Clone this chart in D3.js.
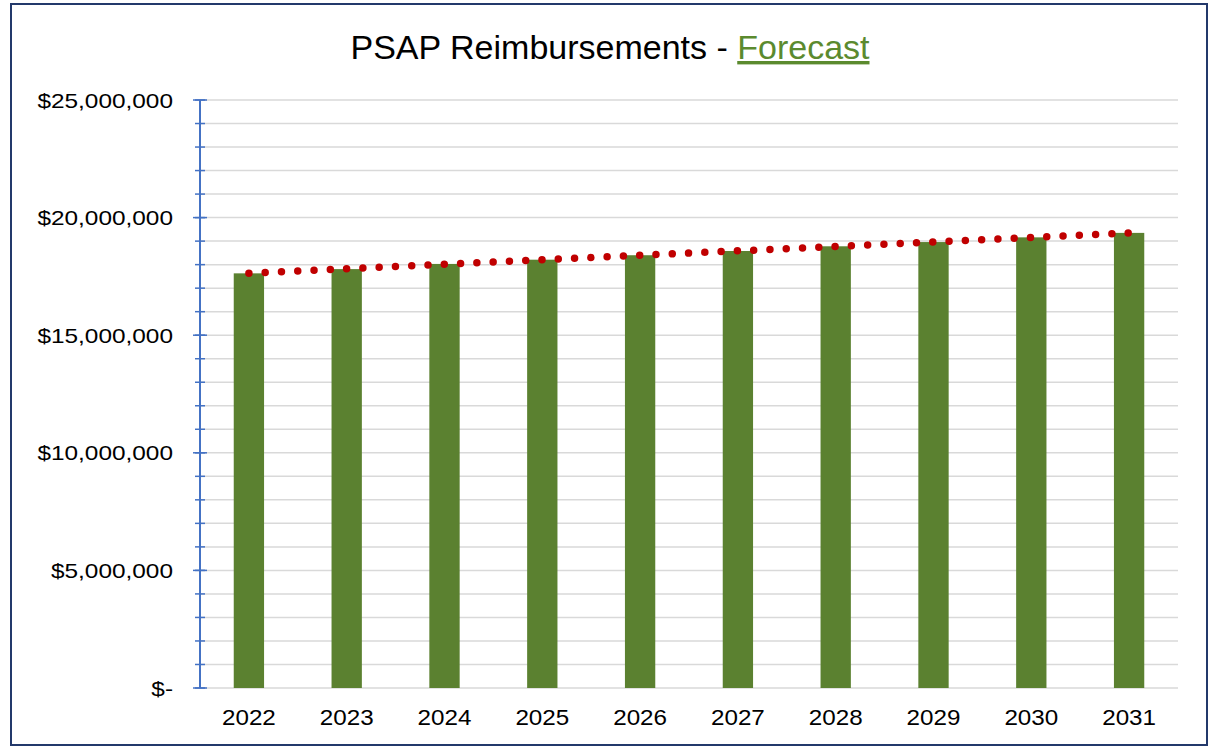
<!DOCTYPE html>
<html lang="en">
  <head>
    <meta charset="utf-8">
    <title>PSAP Reimbursements - Forecast</title>
    <script src="https://d3js.org/d3.v7.min.js"></script>
    <style>
      body { margin: 0; background: #fff; }
      text { font-family: "Liberation Sans", Arial, sans-serif; fill: #000; }
    </style>
  </head>
  <body>
    <script>
      // values
      var years = ["2022","2023","2024","2025","2026","2027","2028","2029","2030","2031"];
      var reimbursements = [17630000, 17810000, 18030000, 18210000, 18400000, 18580000, 18780000, 18960000, 19160000, 19350000];
      var yTicks = [0, 5000000, 10000000, 15000000, 20000000, 25000000];
      var yMinorTicks = d3.range(0, 25000001, 1000000);

      var width = 1216;
      var height = 747;
      var margin = {top: 100, left: 200, right: 38, bottom: 59};

      var svg = d3.select("body")
        .append("svg")
        .attr("width", width)
        .attr("height", height);

      // chart frame
      svg.append("rect")
        .attr("x", 11)
        .attr("y", 4)
        .attr("width", 1196)
        .attr("height", 741)
        .attr("fill", "#fff")
        .attr("stroke", "#23396b")
        .attr("stroke-width", 2);

      var x = d3.scaleBand()
        .domain(years)
        .range([margin.left, width - margin.right])
        .paddingInner(0.69)
        .paddingOuter(0.345);

      var y = d3.scaleLinear()
        .domain([0, 25000000])
        .range([height - margin.bottom, margin.top]);

      // gridlines
      svg.append("g")
        .selectAll("line")
        .data(yMinorTicks)
        .enter()
        .append("line")
          .attr("x1", margin.left)
          .attr("x2", width - margin.right)
          .attr("y1", function(d) { return y(d); })
          .attr("y2", function(d) { return y(d); })
          .attr("stroke", "#d9d9d9")
          .attr("stroke-width", 1.5);

      // bars
      svg.append("g")
        .selectAll("rect")
        .data(reimbursements)
        .enter()
        .append("rect")
          .attr("x", function(d, i) { return x(years[i]); })
          .attr("y", function(d) { return y(d); })
          .attr("width", x.bandwidth())
          .attr("height", function(d) { return y(0) - y(d); })
          .attr("fill", "#5b8130");

      // linear trendline (least squares over the bars)
      var n = reimbursements.length;
      var idx = d3.range(n);
      var mx = d3.mean(idx), my = d3.mean(reimbursements);
      var slope = d3.sum(idx, function(i) { return (i - mx) * (reimbursements[i] - my); }) /
                  d3.sum(idx, function(i) { return (i - mx) * (i - mx); });
      var icpt = my - slope * mx;
      var trend = [0, n - 1].map(function(i) { return {year: years[i], v: icpt + slope * i}; });

      svg.append("path")
        .datum(trend)
        .attr("d", d3.line()
          .x(function(d) { return x(d.year) + x.bandwidth() / 2; })
          .y(function(d) { return y(d.v); }))
        .attr("fill", "none")
        .attr("stroke", "#c00000")
        .attr("stroke-width", 7.5)
        .attr("stroke-linecap", "round")
        .attr("stroke-dasharray", "0 16.3");

      // y axis
      var yAxis = svg.append("g")
        .attr("transform", "translate(" + margin.left + ",0)");

      yAxis.append("line")
        .attr("y1", y(0))
        .attr("y2", y(25000000))
        .attr("stroke", "#4472c4")
        .attr("stroke-width", 2);

      yAxis.selectAll(".minor")
        .data(yMinorTicks)
        .enter()
        .append("line")
          .attr("class", "minor")
          .attr("x1", -5)
          .attr("x2", 5)
          .attr("y1", function(d) { return y(d); })
          .attr("y2", function(d) { return y(d); })
          .attr("stroke", "#4472c4")
          .attr("stroke-width", 1.5);

      yAxis.selectAll(".major")
        .data(yTicks)
        .enter()
        .append("line")
          .attr("class", "major")
          .attr("x1", -7)
          .attr("x2", 7)
          .attr("y1", function(d) { return y(d); })
          .attr("y2", function(d) { return y(d); })
          .attr("stroke", "#4472c4")
          .attr("stroke-width", 1.5);

      var fmt = d3.format(",");
      yAxis.selectAll("text")
        .data(yTicks)
        .enter()
        .append("text")
          .attr("transform", function(d) { return "translate(-27," + (y(d) + 7.5) + ") scale(1.22,1)"; })
          .attr("text-anchor", "end")
          .style("font-size", "20px")
          .text(function(d) { return d === 0 ? "$-" : "$" + fmt(d); });

      // x labels
      svg.append("g")
        .selectAll("text")
        .data(years)
        .enter()
        .append("text")
          .attr("transform", function(d) { return "translate(" + (x(d) + x.bandwidth() / 2) + "," + (height - 22) + ") scale(1.1,1)"; })
          .attr("text-anchor", "middle")
          .style("font-size", "22px")
          .text(function(d) { return d; });

      // title
      var title = svg.append("text")
        .attr("x", 610)
        .attr("y", 59)
        .attr("text-anchor", "middle")
        .style("font-size", "34px");
      title.append("tspan").text("PSAP Reimbursements - ");
      title.append("tspan")
        .style("fill", "#5b8a2e")
        .style("text-decoration", "underline")
        .text("Forecast");
    </script>
  </body>
</html>
